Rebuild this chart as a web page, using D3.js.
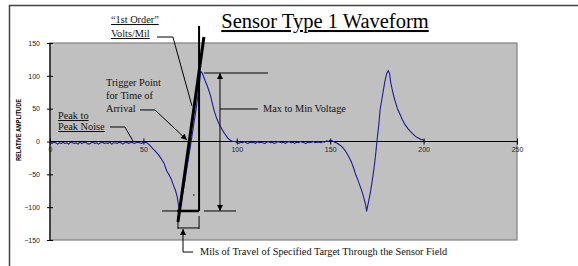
<!DOCTYPE html>
<html>
<head>
<meta charset="utf-8">
<script src="https://cdn.jsdelivr.net/npm/d3@7"></script>
<style>
  body { margin: 0; background: #fff; }
  svg { display: block; }
  .note { font-family: "Liberation Serif", "Times New Roman", serif; font-size: 10.3px; fill: #111; }
  .tick text { font-family: "Liberation Sans", Arial, sans-serif; font-size: 7px; fill: #222; }
</style>
</head>
<body>
<div id="chart"></div>
<script>
// waveform samples: mils of travel vs relative amplitude
const noiseLeftMils = d3.range(0, 51, 1);
const noiseLeftAmp = [-2,-3,-1,-2,-4,-2,-3,-1,-3,-2,
                      -4,-1,-2,-3,-2,-4,-1,-3,-2,-1,
                      -3,-4,-2,-1,-3,-2,-4,-2,-1,-3,
                      -2,-3,-1,-4,-2,-2,-3,-1,-2,-4,
                      -2,-1,-3,-2,-1,-3,-2,-1,-2,-3,-1];

const pulseOneMils = [52,53.5,55,56.5,58,59.5,61,62.5,64,65,66,67,68,68.7,69.2,70,71,72,73,74,75,76,77,78,79,80,80.7,81.5,82.2,83,84,85,86,87,88,89,90,91,92,93,94,95,96,97,98];
const pulseOneAmp = [-2,-6,-11,-15,-20,-26,-33,-45,-52,-58,-66,-73,-83,-95,-106,-96,-80,-64,-45,-28,-10,8,27,45,66,88,107,104,99,93,86,78,69,57,46,37,30,24,19,14,10,6,3,1,0];

const noiseMidMils = d3.range(99, 150, 1);
const noiseMidAmp = [0,-1,-3,-1,-2,0,-2,-3,-1,-2,
                     -1,-3,0,-2,-1,-2,-3,-1,0,-2,
                     -1,-3,-2,0,-1,-2,-1,-3,-1,0,
                     -2,-1,-3,-1,-2,0,-1,-2,-3,-1,
                     -2,-1,0,-2,-1,-1,-2,0,-1,1,0];

const pulseTwoMils = [150,151,152.5,154,155.5,157,158.5,159.7,161,162.5,163.5,165,166,167,168,169,169.5,170.5,171.5,172.5,173.5,174.5,175,176,176.7,178,179.3,180.3,181.1,181.8,182.4,183.5,184.7,186,187.4,188.5,190,191.5,193,194.5,196,197.5,198.5,199.5,200];
const pulseTwoAmp = [2,1,-1,-3,-6,-10,-16,-22,-29,-40,-49,-60,-68,-76,-86,-97,-106,-92,-78,-60,-40,-15,0,25,48,70,92,104,108,103,90,75,62,50,41,34,26,20,15,11,7,5,3,3,1];

const xTicks = [0, 50, 100, 150, 200, 250];
const yTicks = [-150, -100, -50, 0, 50, 100, 150];

const width = 578, height = 266;

const svg = d3.select('#chart')
              .append('svg')
              .attr('width', width)
              .attr('height', height);

const defs = svg.append('defs');
defs.append('marker')
    .attr('id', 'arrow')
    .attr('viewBox', '0 0 10 10')
    .attr('refX', 10).attr('refY', 5)
    .attr('markerWidth', 7).attr('markerHeight', 6)
    .attr('markerUnits', 'userSpaceOnUse')
    .attr('orient', 'auto-start-reverse')
    .append('path')
    .attr('d', 'M0,0 L10,5 L0,10 z')
    .attr('fill', '#000');

// outer frame
svg.append('path')
   .attr('d', 'M9.5,266 V5.5 H578')
   .attr('fill', 'none')
   .attr('stroke', '#444')
   .attr('stroke-width', 1.5);

const x = d3.scaleLinear().domain([0, 250]).range([50, 517]);
const y = d3.scaleLinear().domain([-150, 150]).range([240, 43]);

// plot area
svg.append('rect')
   .attr('x', x(0)).attr('y', y(150))
   .attr('width', x(250) - x(0)).attr('height', y(-150) - y(150))
   .attr('fill', '#c0c0c0')
   .attr('stroke', '#808080')
   .attr('stroke-width', 1.2);

const yAxis = d3.axisLeft(y).tickValues(yTicks).tickSize(6).tickPadding(7);
const yg = svg.append('g')
   .attr('transform', `translate(${x(0) + 3},0)`)
   .call(yAxis);
yg.select('.domain').remove();
yg.selectAll('.tick line').attr('stroke', '#000');

svg.append('line')
   .attr('x1', x(0)).attr('x2', x(0))
   .attr('y1', y(150)).attr('y2', y(-150))
   .attr('stroke', '#000').attr('stroke-width', 1.2);

const xAxis = d3.axisBottom(x).tickValues(xTicks).tickSize(6).tickPadding(2.5);
const xg = svg.append('g')
   .attr('transform', `translate(0,${y(0) - 3})`)
   .call(xAxis);
xg.select('.domain').remove();
xg.selectAll('.tick line').attr('stroke', '#000');

svg.append('line')
   .attr('x1', x(0)).attr('x2', x(250))
   .attr('y1', y(0)).attr('y2', y(0))
   .attr('stroke', '#000').attr('stroke-width', 1);

svg.append('text')
   .attr('transform', `translate(21,130) rotate(-90)`)
   .attr('text-anchor', 'middle')
   .style('font-family', '"Liberation Sans", Arial, sans-serif')
   .style('font-size', '6.5px')
   .style('font-weight', 'bold')
   .attr('textLength', 62)
   .attr('lengthAdjust', 'spacingAndGlyphs')
   .text('RELATIVE AMPLITUDE');

// waveform
const segments = [
  [noiseLeftMils, noiseLeftAmp],
  [pulseOneMils, pulseOneAmp],
  [noiseMidMils, noiseMidAmp],
  [pulseTwoMils, pulseTwoAmp]
];
let wave = [];
segments.forEach(([m, a]) => m.forEach((v, i) => wave.push([v, a[i]])));

const line = d3.line().x(d => x(d[0])).y(d => y(d[1]));

svg.append('path')
   .datum(wave)
   .attr('d', line)
   .attr('fill', 'none')
   .attr('stroke', '#1c1c98')
   .attr('stroke-width', 1.1)
   .attr('stroke-linejoin', 'round');

// annotation lines, in data units
const note = (pts, w, arrowEnd, arrowStart) => {
  let p = svg.append('path')
             .datum(pts)
             .attr('d', line)
             .attr('fill', 'none')
             .attr('stroke', '#000')
             .attr('stroke-width', w);
  if (arrowEnd) p.attr('marker-end', 'url(#arrow)');
  if (arrowStart) p.attr('marker-start', 'url(#arrow)');
  return p;
};

// max / min levels and double arrow
note([[82.4, 104.3], [116.7, 104.3]], 1);
note([[60, -105.8], [68, -105.8]], 1);
note([[82.4, -105.8], [99.6, -105.8]], 1);
note([[91, 104.3], [91, -105.8]], 1, true, true);
note([[91, 49.5], [111.3, 49.5]], 1);

// 1st order slope and travel box
note([[68.5, -122.6], [82.4, 159.1]], 3);
note([[79.8, 175.9], [79.8, -105.8]], 2);
note([[68, -105.8], [79.8, -105.8]], 2.5);
svg.append('circle').attr('cx', x(77)).attr('cy', y(-81.5)).attr('r', 0.7).attr('fill', '#000');

// leaders
note([[57.3, 159.1], [65.8, 159.1], [76, 54.1]], 1);
note([[48.2, 48], [56.2, 48], [73.3, 2.3]], 1, true);
note([[32.1, 22.1], [40.1, 22.1], [44.4, 0.8]], 1);

// mils of travel bracket
note([[68.5, -113.4], [68.5, -133.2]], 1);
note([[79.8, -113.4], [79.8, -133.2]], 1);
note([[68.5, -131.7], [79.8, -131.7]], 1);
note([[76.6, -168.3], [71.2, -168.3], [71.2, -133.2]], 1, true);

// texts
const label = (tx, ty, s, underline) => {
  let t = svg.append('text').attr('class', 'note').attr('x', tx).attr('y', ty).text(s);
  if (underline) t.style('text-decoration', 'underline');
  return t;
};

svg.append('text')
   .attr('x', 325).attr('y', 28)
   .attr('text-anchor', 'middle')
   .style('font-family', '"Liberation Serif", "Times New Roman", serif')
   .style('font-size', '20.5px')
   .style('text-decoration', 'underline')
   .attr('fill', '#000')
   .text('Sensor Type 1 Waveform');

label(111, 23, '\u201C1st Order\u201D', true);
label(111, 37, 'Volts/Mil', true);
label(106, 86, 'Trigger Point');
label(106, 99, 'for Time of');
label(106, 112, 'Arrival');
label(58, 119, 'Peak to', true);
label(58, 130, 'Peak Noise', true);
label(263, 112, 'Max to Min Voltage');
label(200, 255, 'Mils of Travel of Specified Target Through the Sensor Field');
</script>
</body>
</html>
